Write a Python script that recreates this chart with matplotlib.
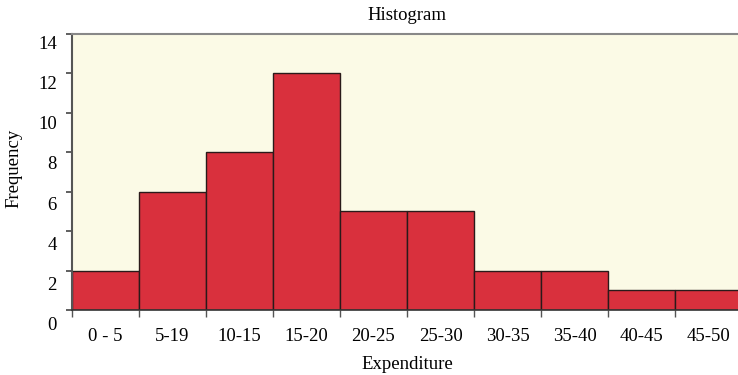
import matplotlib.pyplot as plt
import matplotlib.transforms as mtransforms

plt.rcParams['font.family'] = ['Liberation Serif', 'DejaVu Serif']

# Expenditure bins and their counts
bins = ['0 - 5', '5-19', '10-15', '15-20', '20-25', '25-30',
        '30-35', '35-40', '40-45', '45-50']
freq = [2, 6, 8, 12, 5, 5, 2, 2, 1, 1]
yticks = [0, 2, 4, 6, 8, 10, 12, 14]

fig = plt.figure(figsize=(7.38, 3.75), dpi=100)
ax = fig.add_axes([72 / 738, 65 / 375, 670 / 738, 276 / 375])
ax.set_facecolor('#fbfae6')

pos = list(range(len(bins)))
ax.bar(pos, freq, width=1, align='edge', color='#d9303d',
       edgecolor='#2a1a1a', linewidth=1.0, zorder=2)

ax.set_xlim(0, len(bins))
ax.set_ylim(0, 14)

# edges get tick marks, centres get the labels
ax.set_xticks(range(len(bins) + 1))
ax.set_xticklabels([])
ax.set_xticks([p + 0.5 for p in pos], minor=True)
ax.set_xticklabels(bins, minor=True)
ax.tick_params(axis='x', which='major', length=5, width=1, color='#555555')
ax.tick_params(axis='x', which='minor', length=0, pad=13, labelsize=13.5)

ax.set_yticks(yticks)
ax.tick_params(axis='y', length=4, width=1.2, color='#444444',
               pad=7, labelsize=13.5)
# numbers sit a little below their tick marks, more so near the bottom
for v, lab in zip(yticks, ax.get_yticklabels()):
    dy = (8 + (14 - v) / 14 * 6) / 100
    shift = mtransforms.ScaledTranslation(0, -dy, fig.dpi_scale_trans)
    lab.set_transform(lab.get_transform() + shift)

for side in ['top', 'right']:
    ax.spines[side].set_color('#888888')
    ax.spines[side].set_linewidth(1.5)
ax.spines['left'].set_color('#555555')
ax.spines['left'].set_linewidth(1.5)
ax.spines['bottom'].set_color('#333333')
ax.spines['bottom'].set_linewidth(1.2)

ax.set_title('Histogram', fontsize=13.5, pad=10)
ax.set_xlabel('Expenditure', fontsize=13.5, labelpad=8)
fig.text(14 / 738, 1 - 168 / 375, 'Frequency', fontsize=13.5,
         rotation=90, ha='center', va='center')

fig.savefig('out.png', dpi=100)
